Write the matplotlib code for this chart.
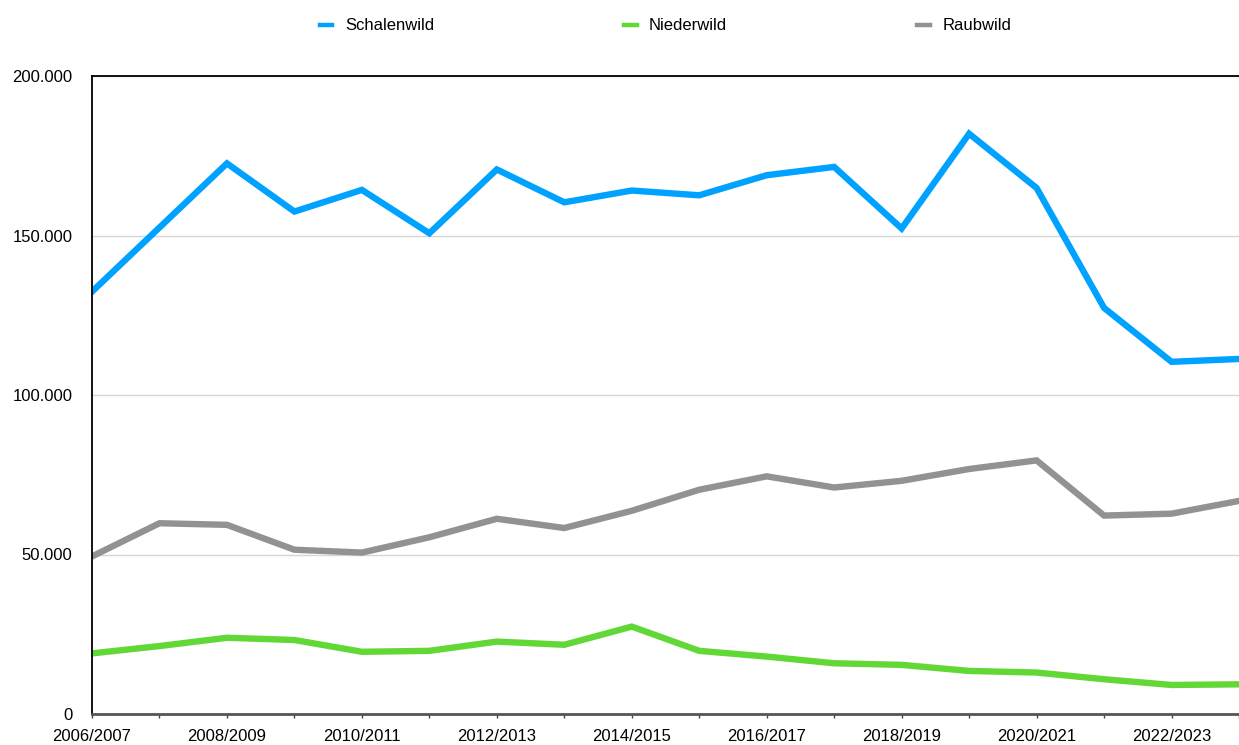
import matplotlib
matplotlib.use("Agg")
import matplotlib.pyplot as plt
from matplotlib.ticker import FuncFormatter

plt.rcParams['font.family'] = ['Liberation Sans', 'DejaVu Sans']

seasons = ['2006/2007', '2007/2008', '2008/2009', '2009/2010', '2010/2011', '2011/2012',
           '2012/2013', '2013/2014', '2014/2015', '2015/2016', '2016/2017', '2017/2018',
           '2018/2019', '2019/2020', '2020/2021', '2021/2022', '2022/2023', '2023/2024']

schalenwild = [132400, 152500, 172600, 157500, 164300, 150700, 170700, 160400, 164100,
               162600, 168900, 171500, 152200, 181900, 164900, 127300, 110400, 111300]
niederwild = [19000, 21300, 23900, 23200, 19500, 19800, 22700, 21700, 27400,
              19800, 18000, 15900, 15400, 13500, 13000, 10900, 9100, 9300]
raubwild = [49400, 59800, 59300, 51500, 50600, 55400, 61200, 58300, 63700,
            70300, 74500, 71000, 73100, 76800, 79500, 62200, 62800, 66800]

series = [('Schalenwild', schalenwild, '#00A2FF'),
          ('Niederwild', niederwild, '#61D836'),
          ('Raubwild', raubwild, '#929292')]

fig = plt.figure(figsize=(12.39, 7.45), dpi=100)
ax = fig.add_axes([92 / 1239, 31 / 745, 1147 / 1239, 638 / 745])

x = list(range(len(seasons)))
for name, vals, col in series:
    ax.plot(x, vals, color=col, lw=4.6, label=name, solid_joinstyle='miter')

ax.set_xlim(0, len(seasons) - 1)
ax.set_ylim(0, 200000)
ax.set_yticks([0, 50000, 100000, 150000, 200000])
ax.yaxis.set_major_formatter(FuncFormatter(lambda v, p: f"{v:,.0f}".replace(",", ".")))
ax.set_xticks(x)
ax.set_xticklabels([s if i % 2 == 0 else '' for i, s in enumerate(seasons)])
ax.tick_params(axis='y', length=0, pad=14, labelsize=12)
ax.tick_params(axis='x', length=3, width=1, color='#444444', pad=8, labelsize=12)

ax.grid(axis='y', color='#d6d6d6', lw=1)
ax.set_axisbelow(True)
ax.spines['right'].set_visible(False)
ax.spines['top'].set_color('black')
ax.spines['top'].set_linewidth(1.3)
ax.spines['left'].set_color('black')
ax.spines['left'].set_linewidth(1.3)
ax.spines['bottom'].set_color('#555555')
ax.spines['bottom'].set_linewidth(2)

leg = ax.legend(loc='center', bbox_to_anchor=(0.5, 1 + 50 / 638), ncol=3, frameon=False,
                fontsize=12, handlelength=0.75, handletextpad=0.75, columnspacing=11.4)
for h in leg.get_lines():
    h.set_linewidth(3.2)

fig.savefig('out.png', dpi=100)
